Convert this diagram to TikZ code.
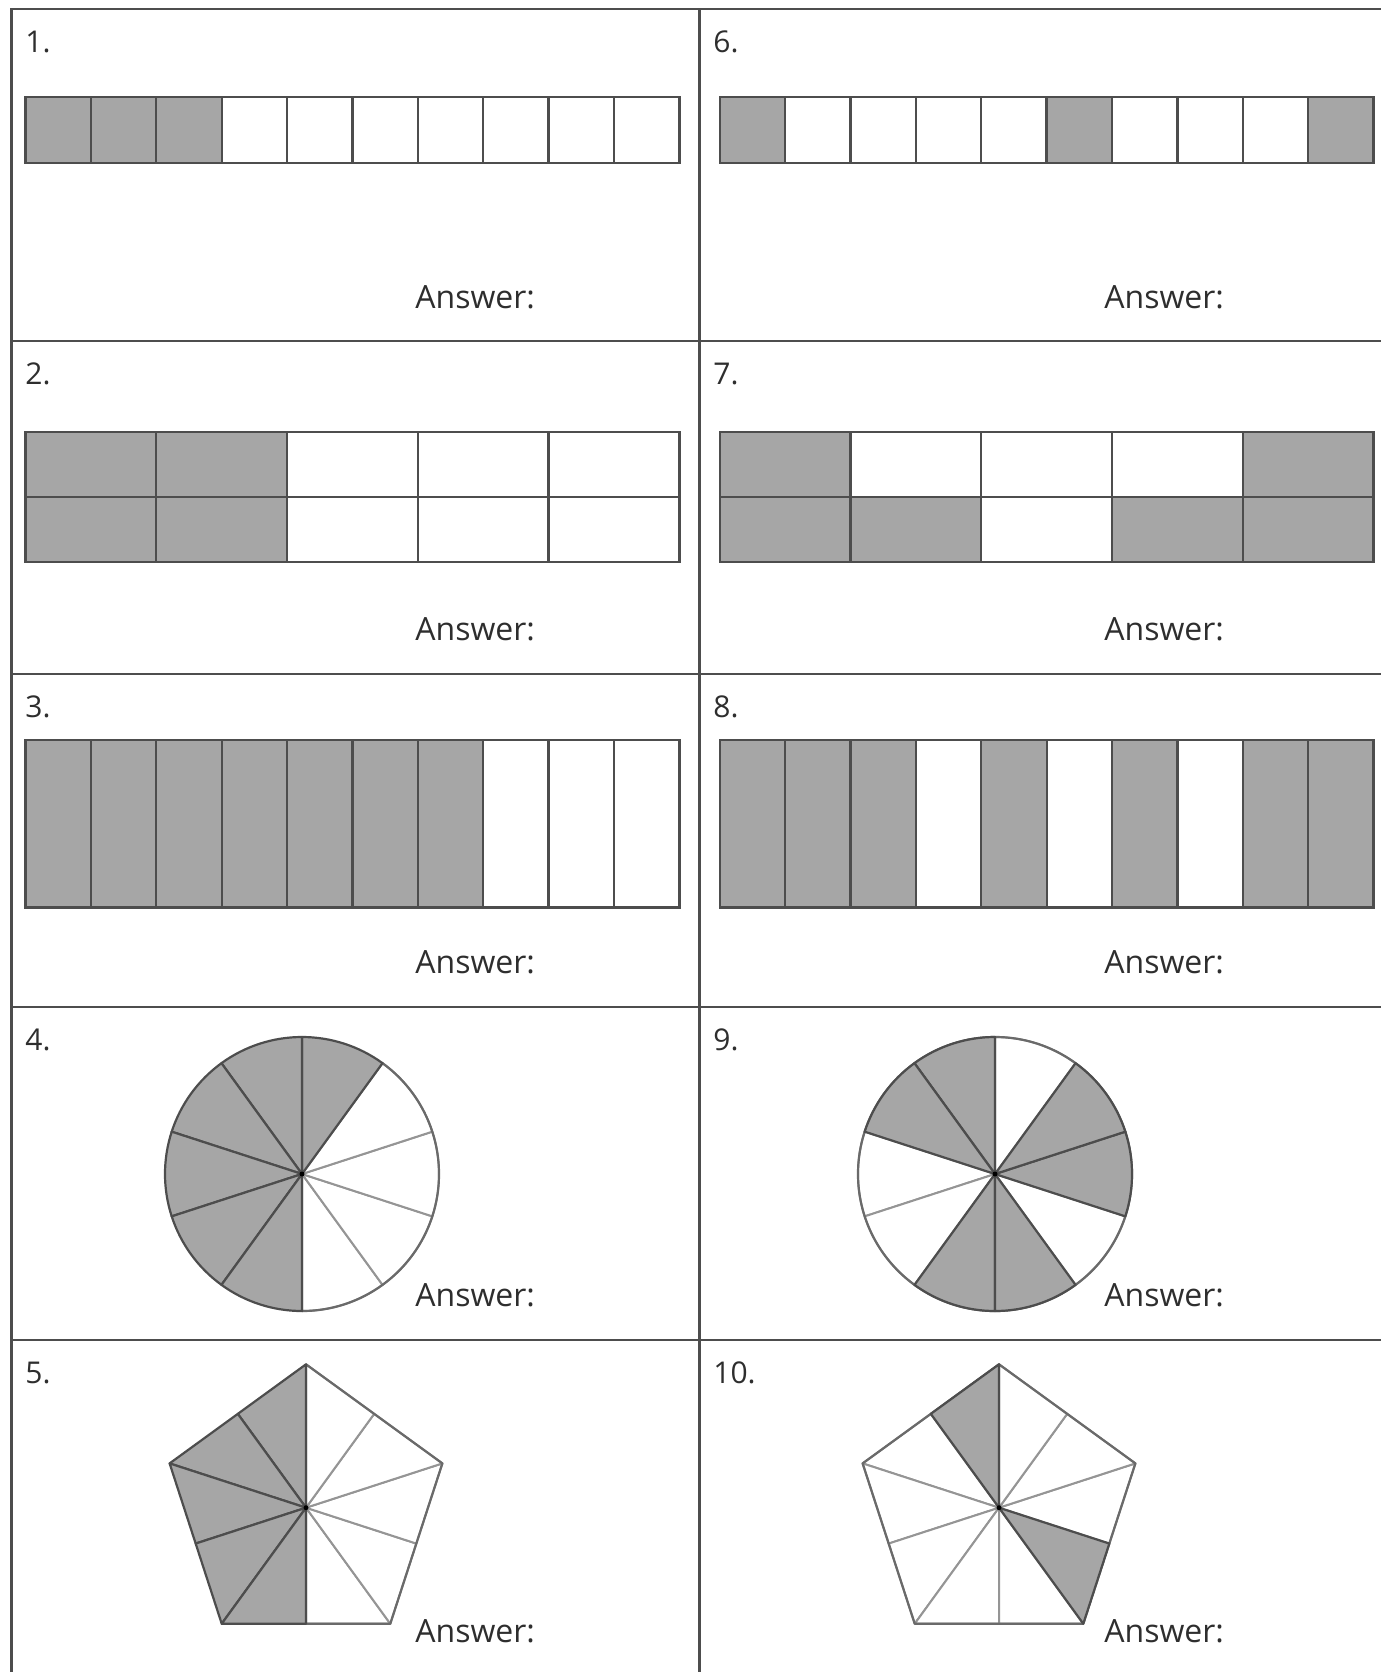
\documentclass[tikz,border=0pt]{standalone}
\usepackage{fontspec}
\setmainfont{Open Sans}
\usetikzlibrary{calc}
\definecolor{rulegray}{HTML}{4D4D4D}
\definecolor{shadegray}{HTML}{A6A6A6}
\definecolor{thingray}{HTML}{959595}
\definecolor{edgegray}{HTML}{6A6A6A}
\definecolor{inkgray}{HTML}{2E2E2E}

\begin{document}
\begin{tikzpicture}[
  x=0.5pt, y=0.5pt,
  frame/.style={draw=rulegray, line width=1.4pt},
  cell/.style={draw=rulegray, line width=1.2pt, fill=white},
  shaded/.style={draw=rulegray, line width=1.1pt, fill=shadegray, line join=round},
  part/.style={draw=thingray, line width=1pt, fill=white, line join=round},
  rim/.style={draw=edgegray, line width=1.1pt, line join=round},
  num/.style={anchor=base west, text=inkgray, inner sep=0pt,
              font=\fontsize{15}{18}\selectfont},
  answer/.style={anchor=base west, text=inkgray, inner sep=0pt,
                 font=\fontsize{16}{19}\selectfont}
]
  \useasboundingbox (0,0) rectangle (1381,-1672);

  % table
  \draw[frame] (1381,-9) -- (11.7,-9) -- (11.7,-1672);
  \draw[frame] (699.3,-9) -- (699.3,-1672);
  \foreach \y in {341,674,1007,1340} \draw[frame] (11.7,-\y) -- (1381,-\y);

  % question numbers
  \node[num] (n1)  at (25,-52.3)    {1.};
  \node[num] (n2)  at (25,-384.3)   {2.};
  \node[num] (n3)  at (25,-717.3)   {3.};
  \node[num] (n4)  at (25,-1050.3)  {4.};
  \node[num] (n5)  at (25,-1383.3)  {5.};
  \node[num] (n6)  at (713,-52.3)   {6.};
  \node[num] (n7)  at (713,-384.3)  {7.};
  \node[num] (n8)  at (713,-717.3)  {8.};
  \node[num] (n9)  at (713,-1050.3) {9.};
  \node[num] (n10) at (713,-1383.3) {10.};

  % answer lines
  \node[answer] (ans1)  at (415,-308.3)  {Answer:};
  \node[answer] (ans2)  at (415,-640.3)  {Answer:};
  \node[answer] (ans3)  at (415,-973.3)  {Answer:};
  \node[answer] (ans4)  at (415,-1306.3) {Answer:};
  \node[answer] (ans5)  at (415,-1642)   {Answer:};
  \node[answer] (ans6)  at (1104,-308.3)   {Answer:};
  \node[answer] (ans7)  at (1104,-640.3)   {Answer:};
  \node[answer] (ans8)  at (1104,-973.3)   {Answer:};
  \node[answer] (ans9)  at (1104,-1306.3)  {Answer:};
  \node[answer] (ans10) at (1104,-1642)    {Answer:};

  % 1. and 6. -- strips of ten
  \foreach \i in {0,...,9} \draw[cell] ({25.6+65.37*\i},-97) rectangle +(65.37,-66);
  \foreach \i in {0,1,2} \draw[shaded] ({25.6+65.37*\i},-97) rectangle +(65.37,-66);
  \foreach \i in {0,...,9} \draw[cell] ({719.8+65.37*\i},-97) rectangle +(65.37,-66);
  \foreach \i in {0,5,9} \draw[shaded] ({719.8+65.37*\i},-97) rectangle +(65.37,-66);

  % 2. and 7. -- two rows of five
  \foreach \i in {0,...,4} \foreach \j in {0,1}
    \draw[cell] ({25.6+130.74*\i},{-432-65*\j}) rectangle +(130.74,-65);
  \foreach \i/\j in {0/0,1/0,0/1,1/1}
    \draw[shaded] ({25.6+130.74*\i},{-432-65*\j}) rectangle +(130.74,-65);
  \foreach \i in {0,...,4} \foreach \j in {0,1}
    \draw[cell] ({719.8+130.74*\i},{-432-65*\j}) rectangle +(130.74,-65);
  \foreach \i/\j in {0/0,4/0,0/1,1/1,3/1,4/1}
    \draw[shaded] ({719.8+130.74*\i},{-432-65*\j}) rectangle +(130.74,-65);

  % 3. and 8. -- tall strips of ten
  \foreach \i in {0,...,9} \draw[cell] ({25.6+65.37*\i},-740) rectangle +(65.37,-167.5);
  \foreach \i in {0,...,6} \draw[shaded] ({25.6+65.37*\i},-740) rectangle +(65.37,-167.5);
  \foreach \i in {0,...,9} \draw[cell] ({719.8+65.37*\i},-740) rectangle +(65.37,-167.5);
  \foreach \i in {0,1,2,4,6,8,9} \draw[shaded] ({719.8+65.37*\i},-740) rectangle +(65.37,-167.5);

  % 4. and 9. -- circles in tenths
  \coordinate (c4) at (302,-1174);
  \foreach \a in {270,306,342,18}
    \draw[part] (c4) -- ++(\a:137) arc[start angle=\a, delta angle=36, radius=137] -- cycle;
  \draw[rim] (c4) ++(270:137) arc[start angle=270, delta angle=144, radius=137];
  \foreach \a in {54,90,126,162,198,234}
    \draw[shaded] (c4) -- ++(\a:137) arc[start angle=\a, delta angle=36, radius=137] -- cycle;
  \fill[black] (c4) circle[radius=2.5];

  \coordinate (c9) at (995,-1174);
  \foreach \a in {54,162,198,306}
    \draw[part] (c9) -- ++(\a:137) arc[start angle=\a, delta angle=36, radius=137] -- cycle;
  \draw[rim] (c9) circle[radius=137];
  \foreach \a in {90,126,234,270,342,18}
    \draw[shaded] (c9) -- ++(\a:137) arc[start angle=\a, delta angle=36, radius=137] -- cycle;
  \fill[black] (c9) circle[radius=2.5];

  % 5. and 10. -- pentagons in tenths
  \coordinate (c5) at (306,-1507.7);
  \coordinate (c10) at (999,-1507.7);
  \foreach \k in {0,...,9}{
    \pgfmathsetmacro\rr{116+27.4*(1-mod(\k,2))}
    \coordinate (p\k) at ($(c5)+(90+36*\k:\rr)$);
    \coordinate (q\k) at ($(c10)+(90+36*\k:\rr)$);
  }
  \foreach \k/\n in {5/6,6/7,7/8,8/9,9/0} \draw[part] (c5) -- (p\k) -- (p\n) -- cycle;
  \draw[rim] (p4) -- (p6) -- (p8) -- (p0);
  \foreach \k/\n in {0/1,1/2,2/3,3/4,4/5} \draw[shaded] (c5) -- (p\k) -- (p\n) -- cycle;
  \fill[black] (c5) circle[radius=2.5];

  \foreach \k/\n in {1/2,2/3,3/4,4/5,5/6,7/8,8/9,9/0} \draw[part] (c10) -- (q\k) -- (q\n) -- cycle;
  \draw[rim] (q0) -- (q2) -- (q4) -- (q6) -- (q8) -- cycle;
  \foreach \k/\n in {0/1,6/7} \draw[shaded] (c10) -- (q\k) -- (q\n) -- cycle;
  \fill[black] (c10) circle[radius=2.5];
\end{tikzpicture}
\end{document}
